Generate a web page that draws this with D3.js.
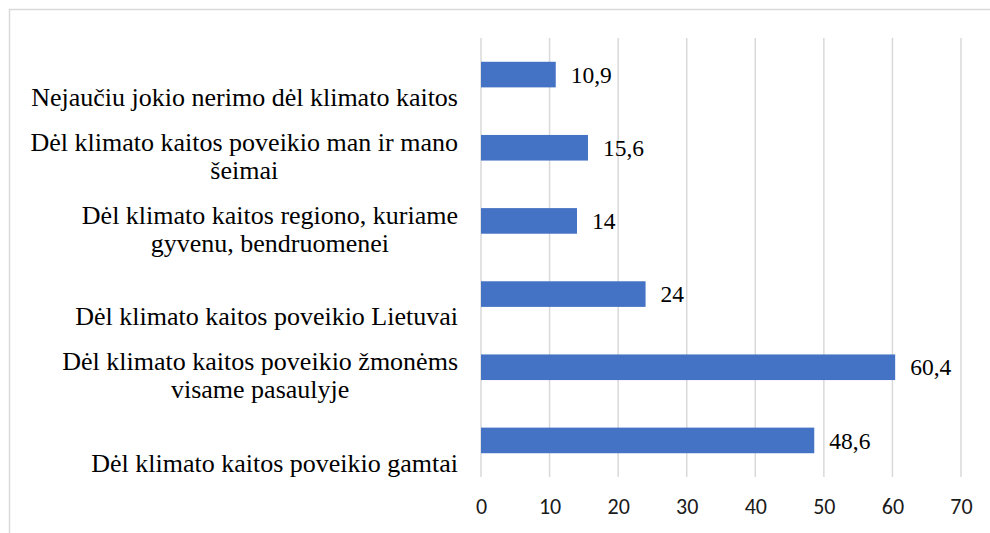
<!DOCTYPE html>
<html>
<head>
<meta charset="utf-8">
<script src="https://cdn.jsdelivr.net/npm/d3@7"></script>
<style>
  body { margin: 0; background: #fff; }
  svg { display: block; }
</style>
</head>
<body>
<div id="chart"></div>
<script>
// data, top to bottom as in the picture
const categories = [
    ['Nejaučiu jokio nerimo dėl klimato kaitos'],
    ['Dėl klimato kaitos poveikio man ir mano', 'šeimai'],
    ['Dėl klimato kaitos regiono, kuriame', 'gyvenu, bendruomenei'],
    ['Dėl klimato kaitos poveikio Lietuvai'],
    ['Dėl klimato kaitos poveikio žmonėms', 'visame pasaulyje'],
    ['Dėl klimato kaitos poveikio gamtai']
];
const values = [10.9, 15.6, 14, 24, 60.4, 48.6];
const valueLabels = ['10,9', '15,6', '14', '24', '60,4', '48,6'];
const ticks = [0, 10, 20, 30, 40, 50, 60, 70];

const serif = "'Liberation Serif', 'Times New Roman', Tinos, serif";
const sans = "Calibri, Carlito, 'Liberation Sans', sans-serif";

const width = 990, height = 533;
const margin = { top: 38, right: 29, bottom: 56, left: 481 };
const innerW = width - margin.left - margin.right;
const innerH = height - margin.top - margin.bottom;

const svg = d3.select('#chart').append('svg')
    .attr('width', width)
    .attr('height', height);

// outer chart border (right and bottom edges fall outside the picture)
svg.append('rect')
    .attr('x', 9.5)
    .attr('y', 9.5)
    .attr('width', 1000)
    .attr('height', 600)
    .attr('fill', 'none')
    .attr('stroke', '#d9d9d9')
    .attr('stroke-width', 1.5);

const chart = svg.append('g')
    .attr('transform', `translate(${margin.left},${margin.top})`);

const xScale = d3.scaleLinear().domain([0, 70]).range([0, innerW]);
const yScale = d3.scaleBand()
    .domain(d3.range(categories.length))
    .range([0, innerH])
    .paddingInner(0.65)
    .paddingOuter(0.325);

// vertical gridlines
chart.selectAll('.grid')
    .data(ticks)
    .join('line')
    .attr('class', 'grid')
    .attr('x1', d => xScale(d))
    .attr('x2', d => xScale(d))
    .attr('y1', 0)
    .attr('y2', innerH)
    .attr('stroke', '#d9d9d9')
    .attr('stroke-width', 1.5);

// x axis tick labels
const xAxis = d3.axisBottom(xScale).tickValues(ticks).tickSize(0).tickPadding(21);
chart.append('g')
    .attr('transform', `translate(0,${innerH})`)
    .call(xAxis)
    .call(g => g.select('.domain').remove())
    .call(g => g.selectAll('text')
        .style('font-family', sans)
        .style('font-size', '22px')
        .attr('fill', '#1a1a1a'));

// bars
chart.selectAll('.bar')
    .data(values)
    .join('rect')
    .attr('class', 'bar')
    .attr('x', 0)
    .attr('y', (d, i) => yScale(i))
    .attr('width', d => xScale(d))
    .attr('height', yScale.bandwidth())
    .attr('fill', '#4472c4');

// value labels
chart.selectAll('.val')
    .data(values)
    .join('text')
    .attr('class', 'val')
    .attr('x', d => xScale(d) + 15)
    .attr('y', (d, i) => yScale(i) + yScale.bandwidth() / 2)
    .attr('dy', '0.35em')
    .style('font-family', serif)
    .style('font-size', '23.5px')
    .attr('fill', '#000')
    .text((d, i) => valueLabels[i]);

// category labels: block right aligned, lines centred within the block,
// last line sits a bit below the bar centre
const lineH = 28;
const labels = chart.selectAll('.cat')
    .data(categories)
    .join('g')
    .attr('class', 'cat');

labels.each(function (lines, i) {
    const g = d3.select(this);
    const cy = yScale(i) + yScale.bandwidth() / 2;
    const texts = lines.map((t, j) => g.append('text')
        .attr('y', cy + 22 - (lines.length - 1 - j) * lineH)
        .attr('dy', '0.35em')
        .attr('text-anchor', 'middle')
        .style('font-family', serif)
        .style('font-size', '26px')
        .attr('fill', '#000')
        .text(t));
    const maxW = d3.max(texts, t => t.node().getComputedTextLength());
    texts.forEach(t => t.attr('x', -23 - maxW / 2));
});
</script>
</body>
</html>
